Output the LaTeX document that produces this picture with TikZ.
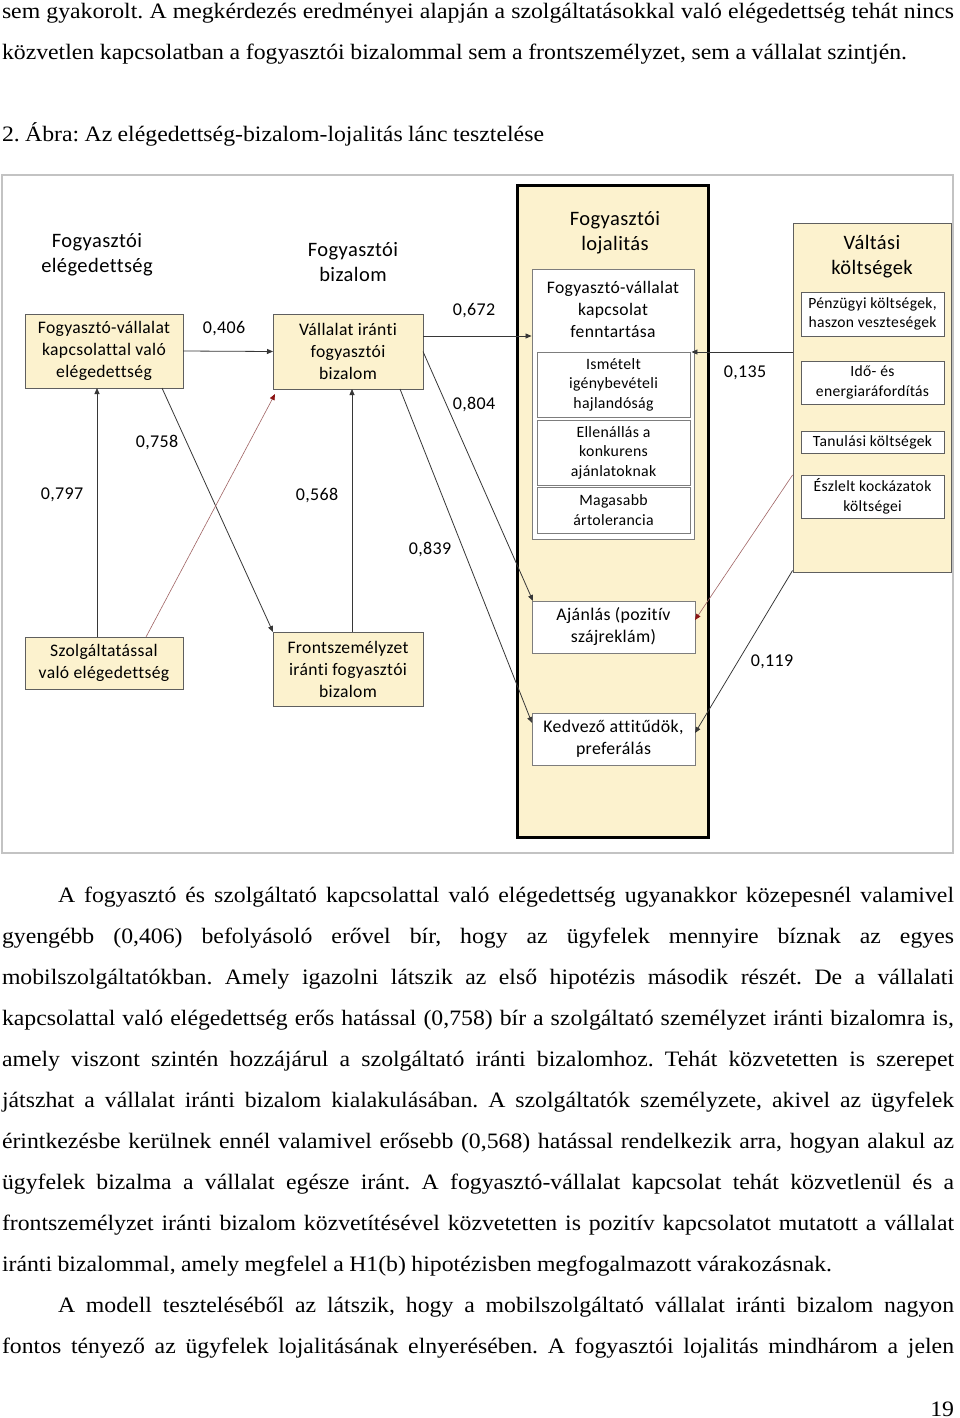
\documentclass[tikz,border=0pt]{standalone}
\usepackage{fontspec}
\setmainfont[FakeStretch=1.08]{Liberation Serif}
\newfontfamily\cf[LetterSpace=2,Ligatures=NoCommon]{Carlito}
\usetikzlibrary{arrows.meta,calc}
\definecolor{beige}{RGB}{252,242,206}
\definecolor{bborder}{RGB}{95,95,95}
\definecolor{sborder}{RGB}{125,125,125}
\definecolor{framec}{RGB}{195,195,195}
\definecolor{linec}{RGB}{55,55,55}
\definecolor{redline}{RGB}{160,100,100}
\definecolor{redtip}{RGB}{140,20,20}
\tikzset{
  bodyline/.style={anchor=base west, inner sep=0, outer sep=0, font=\fontsize{22}{26}\selectfont},
  tbox/.style={draw=bborder, fill=beige, line width=0.9pt, inner sep=0, outer sep=0, align=center, font=\cf\fontsize{17.6}{22}\selectfont},
  wbox/.style={draw=sborder, fill=white, line width=0.9pt, inner sep=0, outer sep=0, align=center, font=\cf\fontsize{15.8}{19.5}\selectfont},
  vbox/.style={draw=bborder, fill=white, line width=0.9pt, inner sep=0, outer sep=0, align=center, font=\cf\fontsize{15.6}{19.5}\selectfont},
  head/.style={align=center, inner sep=0, font=\cf\fontsize{20.5}{25}\selectfont},
  num/.style={inner sep=0, font=\cf\fontsize{18}{22}\selectfont},
  arr/.style={draw=linec, line width=0.8pt, -{Triangle[length=6pt,width=5pt]}},
  redarr/.style={draw=redline, line width=0.6pt, -{Triangle[length=6pt,width=5pt,color=redtip]}},
}
\begin{document}
\frenchspacing
\begin{tikzpicture}[x=1pt,y=-1pt]
\useasboundingbox[fill=white] (0,0) rectangle (960,1418);

% ---- text above
\node[bodyline] (t1) at (2,19) {\makebox[952pt][s]{sem gyakorolt. A megkérdezés eredményei alapján a szolgáltatásokkal való elégedettség tehát nincs}};
\node[bodyline] (t2) at (2,60) {\makebox[905pt][s]{közvetlen kapcsolatban a fogyasztói bizalommal sem a frontszemélyzet, sem a vállalat szintjén.}};
\node[bodyline] (cap) at (2,142) {\makebox[542pt][s]{2. Ábra: Az elégedettség-bizalom-lojalitás lánc tesztelése}};

% ---- diagram frame
\draw[framec, line width=1.2pt] (2,175) rectangle (953,853);

% left / middle columns
\node[head] (h1) at (97,255) {Fogyasztói\\elégedettség};
\node[head] (h2) at (353,262) {Fogyasztói\\bizalom};
\node[tbox, minimum width=158pt, minimum height=74pt] (b1) at (104,351) {Fogyasztó-vállalat\\kapcsolattal való\\elégedettség};
\node[tbox, minimum width=150pt, minimum height=75pt] (b2) at (348,351.5) {Vállalat iránti\\fogyasztói\\bizalom};
\node[tbox, minimum width=158pt, minimum height=52pt] (b3) at (104,663) {Szolgáltatással\\való elégedettség};
\node[tbox, minimum width=150pt, minimum height=74pt] (b4) at (348,669) {Frontszemélyzet\\iránti fogyasztói\\bizalom};

% loyalty column
\node[draw=black, fill=beige, line width=3pt, minimum width=191pt, minimum height=652pt, inner sep=0] (L) at (612.5,511) {};
\node[head] (hL) at (615,233) {Fogyasztói\\lojalitás};
\node[draw=sborder, fill=white, line width=0.9pt, minimum width=162pt, minimum height=270pt, inner sep=0] (inner) at (613,404) {};
\node[align=center, inner sep=0, font=\cf\fontsize{17.6}{22}\selectfont] (innert) at (613,309) {Fogyasztó-vállalat\\kapcsolat\\fenntartása};
\node[wbox, minimum width=153pt, minimum height=65pt] (s1) at (613.5,384.5) {Ismételt\\igénybevételi\\hajlandóság};
\node[wbox, minimum width=153pt, minimum height=65pt] (s2) at (613.5,452.5) {Ellenállás a\\konkurens\\ajánlatoknak};
\node[wbox, minimum width=153pt, minimum height=46pt] (s3) at (613.5,510) {Magasabb\\ártolerancia};
\node[wbox, font=\cf\fontsize{17.8}{22}\selectfont, minimum width=163pt, minimum height=52pt] (aj) at (613.5,627) {Ajánlás (pozitív\\szájreklám)};
\node[wbox, font=\cf\fontsize{17.8}{22}\selectfont, minimum width=163pt, minimum height=52pt] (kd) at (613.5,739) {Kedvező attitűdök,\\preferálás};

% switching costs column
\node[draw=bborder, fill=beige, line width=0.9pt, minimum width=158pt, minimum height=349pt, inner sep=0] (V) at (872,397.5) {};
\node[head] (hV) at (872,257) {Váltási\\költségek};
\node[vbox, minimum width=143pt, minimum height=44pt] (v1) at (872.5,314) {Pénzügyi költségek,\\haszon veszteségek};
\node[vbox, minimum width=143pt, minimum height=43pt] (v2) at (872.5,382.5) {Idő- és\\energiaráfordítás};
\node[vbox, minimum width=143pt, minimum height=22pt] (v3) at (872.5,442) {Tanulási költségek};
\node[vbox, minimum width=143pt, minimum height=43pt] (v4) at (872.5,496.5) {Észlelt kockázatok\\költségei};

% connectors
\draw[arr] (b1.east) -- (b2.west);
\draw[arr] ([yshift=15.5pt]b2.east) -- ([yshift=15.5pt]b2.east -| inner.west);
\draw[arr] (b2.east) -- ([xshift=1pt]aj.north west);
\draw[arr] ([xshift=52pt]b2.south) -- ([yshift=16pt]kd.west);
\draw[arr] ([xshift=58pt]b1.south) -- (b4.north west);
\draw[arr] ([xshift=-7pt]b3.north) -- ([xshift=-7pt]b1.south);
\draw[redarr] ([xshift=42pt]b3.north) -- ([xshift=2pt,yshift=-5pt]b2.south west);
\draw[arr] ([xshift=4pt]b4.north) -- ([xshift=4pt]b2.south);
\draw[arr] ([yshift=45.5pt]V.west) -- ([yshift=45.5pt,xshift=-3pt]V.west -| inner.east);
\draw[redarr] ([yshift=-77.5pt]V.west) -- ([yshift=7pt]aj.east);
\draw[arr] ([yshift=2pt]V.south west) -- ([yshift=6pt]kd.east);

% coefficients
\node[num] (n406) at (224,329) {0,406};
\node[num] (n672) at (474,311) {0,672};
\node[num] (n804) at (474,404) {0,804};
\node[num] (n758) at (157,442) {0,758};
\node[num] (n797) at (62,495) {0,797};
\node[num] (n568) at (317,495) {0,568};
\node[num] (n839) at (430,549) {0,839};
\node[num] (n135) at (745,373) {0,135};
\node[num] (n119) at (772,662) {0,119};

% ---- text below
\node[bodyline] (p1) at (58,902) {\makebox[896pt][s]{A fogyasztó és szolgáltató kapcsolattal való elégedettség ugyanakkor közepesnél valamivel}};
\node[bodyline] (p2) at (2,943) {\makebox[952pt][s]{gyengébb (0,406) befolyásoló erővel bír, hogy az ügyfelek mennyire bíznak az egyes}};
\node[bodyline] (p3) at (2,984) {\makebox[952pt][s]{mobilszolgáltatókban. Amely igazolni látszik az első hipotézis második részét. De a vállalati}};
\node[bodyline] (p4) at (2,1025) {\makebox[952pt][s]{kapcsolattal való elégedettség erős hatással (0,758) bír a szolgáltató személyzet iránti bizalomra is,}};
\node[bodyline] (p5) at (2,1066) {\makebox[952pt][s]{amely viszont szintén hozzájárul a szolgáltató iránti bizalomhoz. Tehát közvetetten is szerepet}};
\node[bodyline] (p6) at (2,1107) {\makebox[952pt][s]{játszhat a vállalat iránti bizalom kialakulásában. A szolgáltatók személyzete, akivel az ügyfelek}};
\node[bodyline] (p7) at (2,1148) {\makebox[952pt][s]{érintkezésbe kerülnek ennél valamivel erősebb (0,568) hatással rendelkezik arra, hogyan alakul az}};
\node[bodyline] (p8) at (2,1189) {\makebox[952pt][s]{ügyfelek bizalma a vállalat egésze iránt. A fogyasztó-vállalat kapcsolat tehát közvetlenül és a}};
\node[bodyline] (p9) at (2,1230) {\makebox[952pt][s]{frontszemélyzet iránti bizalom közvetítésével közvetetten is pozitív kapcsolatot mutatott a vállalat}};
\node[bodyline] (p10) at (2,1271) {\makebox[830pt][s]{iránti bizalommal, amely megfelel a H1(b) hipotézisben megfogalmazott várakozásnak.}};
\node[bodyline] (p11) at (58,1312) {\makebox[896pt][s]{A modell teszteléséből az látszik, hogy a mobilszolgáltató vállalat iránti bizalom nagyon}};
\node[bodyline] (p12) at (2,1353) {\makebox[952pt][s]{fontos tényező az ügyfelek lojalitásának elnyerésében. A fogyasztói lojalitás mindhárom a jelen}};
\node[bodyline, anchor=base east] (pg) at (954,1416) {19};
\end{tikzpicture}
\end{document}
